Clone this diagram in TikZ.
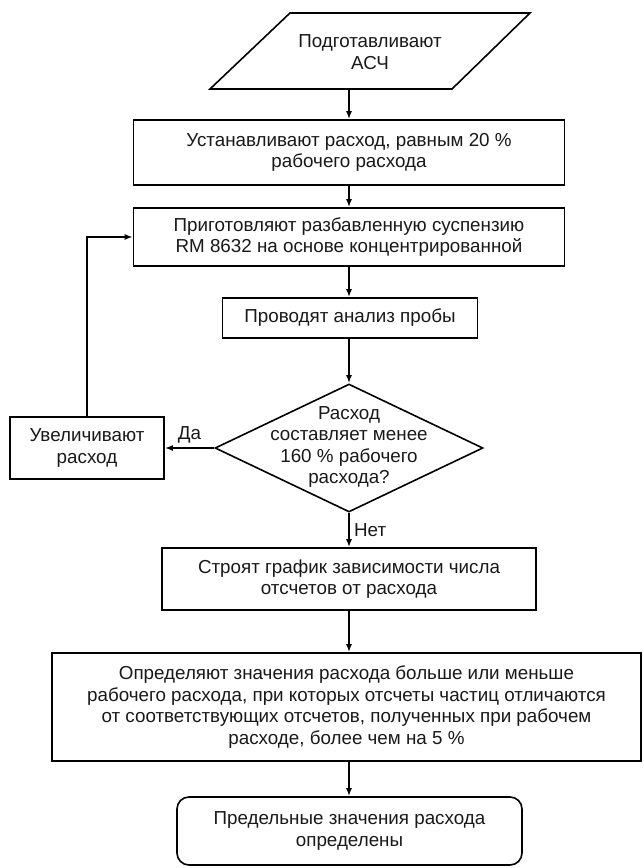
\documentclass[tikz,border=0pt]{standalone}
\usepackage{fontspec}
\setmainfont{Liberation Sans}
\usetikzlibrary{shapes.geometric,arrows.meta,calc}
\begin{document}
\begin{tikzpicture}[x=1pt,y=-1pt,
  font=\fontsize{18.8}{21.5}\selectfont,
  every node/.style={text=black!90},
  box/.style={draw=black, line width=1.6pt, align=center, inner sep=0pt},
  txt/.style={align=center, inner sep=0pt},
  flow/.style={draw=black, line width=1.6pt, -{Latex[length=8pt,width=6pt]}}]
\fill[white] (0,0) rectangle (643,868);
\useasboundingbox (0,0) rectangle (643,868);

% input: parallelogram
\draw[line width=1.6pt, line join=miter] (290,13) -- (530,13) -- (452,89) -- (210,89) -- cycle;
\node[txt] (prep) at (370,52) {Подготавливают\\АСЧ};
\coordinate (prepout) at (349,89);

% process steps
\node[box, minimum width=431pt, minimum height=65pt] (set) at (349,152.5)
  {Устанавливают расход, равным 20 \%\\рабочего расхода};
\node[box, minimum width=431pt, minimum height=58pt] (dil) at (349,237)
  {Приготовляют разбавленную суспензию\\RM 8632 на основе концентрированной};
\node[box, minimum width=255pt, minimum height=40pt] (anal) at (350,318)
  {Проводят анализ пробы};

% decision
\node[draw=black, line width=1.6pt, diamond, minimum width=268pt, minimum height=128pt, inner sep=0pt] (dec) at (349,448) {};
\node[txt] (dectext) at (349,447)
  {Расход\\составляет менее\\160 \% рабочего\\расхода?};

\node[box, minimum width=154pt, minimum height=62pt] (inc) at (87,448)
  {Увеличивают\\расход};

\node[box, minimum width=374pt, minimum height=62pt] (plot) at (349,579)
  {Строят график зависимости числа\\отсчетов от расхода};

\node[box, minimum width=589pt, minimum height=108pt] (lim) at (346.5,707)
  {Определяют значения расхода больше или меньше\\рабочего расхода, при которых отсчеты частиц отличаются\\от соответствующих отсчетов, полученных при рабочем\\расходе, более чем на 5 \%};

\node[box, rounded corners=12pt, minimum width=345pt, minimum height=68pt] (fin) at (349.5,831)
  {Предельные значения расхода\\определены};

% connectors
\draw[flow] (prepout) -- (set.north);
\draw[flow] (set.south) -- (dil.north);
\draw[flow] (dil.south) -- (anal.north -| dil.south);
\draw[flow] (anal.south -| dec.north) -- (dec.north);
\draw[flow] (dec.south) -- (plot.north) node[pos=0.5, right=1pt] (no) {Нет};
\draw[flow] (dec.west) -- (inc.east) node[pos=0.5, above=1pt] (yes) {Да};
\draw[flow] (inc.north) |- (dil.west);
\draw[flow] (plot.south) -- (plot.south |- lim.north);
\draw[flow] (lim.south -| plot.south) -- (fin.north -| plot.south);
\end{tikzpicture}
\end{document}
